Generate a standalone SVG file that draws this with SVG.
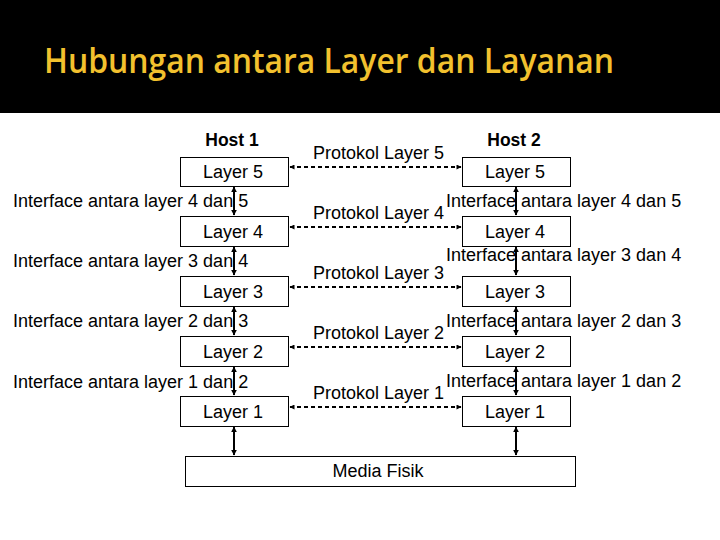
<svg xmlns="http://www.w3.org/2000/svg" width="720" height="540" viewBox="0 0 720 540">
<defs>
<marker id="ah" viewBox="0 0 10 10" refX="9" refY="5" markerWidth="6" markerHeight="6" markerUnits="userSpaceOnUse" orient="auto-start-reverse"><path d="M0,0 L10,5 L0,10 z" fill="#000"/></marker>
<marker id="ad" viewBox="0 0 10 10" refX="9" refY="5" markerWidth="6" markerHeight="5" markerUnits="userSpaceOnUse" orient="auto-start-reverse"><path d="M0,0 L10,5 L0,10 z" fill="#000"/></marker>
<style>
.t{font-family:"Liberation Sans",Arial,sans-serif;font-size:18px;fill:#000}
.c{text-anchor:middle}
.b{font-weight:bold;font-size:17.5px}
.box{fill:#fff;stroke:#000;stroke-width:1}
.v{stroke:#000;stroke-width:2;fill:none;marker-start:url(#ah);marker-end:url(#ah)}
.d{stroke:#000;stroke-width:2;stroke-dasharray:4,3;fill:none;marker-start:url(#ad);marker-end:url(#ad)}
</style>
</defs>
<rect x="0" y="0" width="720" height="540" fill="#fff"/>
<rect x="0" y="0" width="720" height="113" fill="#000"/>
<text x="44" y="73" font-family="'Open Sans','Noto Sans',sans-serif" font-size="34" font-weight="600" fill="#f2c12e" textLength="570" lengthAdjust="spacingAndGlyphs">Hubungan antara Layer dan Layanan</text>

<g id="connectors">
<line class="v" x1="234" y1="187" x2="234" y2="215"/>
<line class="v" x1="234" y1="247" x2="234" y2="275"/>
<line class="v" x1="234" y1="307" x2="234" y2="335"/>
<line class="v" x1="234" y1="367" x2="234" y2="395"/>
<line class="v" x1="234" y1="427" x2="234" y2="455"/>
<line class="v" x1="516" y1="187" x2="516" y2="215"/>
<line class="v" x1="516" y1="247" x2="516" y2="275"/>
<line class="v" x1="516" y1="307" x2="516" y2="335"/>
<line class="v" x1="516" y1="367" x2="516" y2="395"/>
<line class="v" x1="516" y1="427" x2="516" y2="455"/>
<line class="d" x1="290" y1="167" x2="461" y2="167"/>
<line class="d" x1="290" y1="227" x2="461" y2="227"/>
<line class="d" x1="290" y1="287" x2="461" y2="287"/>
<line class="d" x1="290" y1="347" x2="461" y2="347"/>
<line class="d" x1="290" y1="407" x2="461" y2="407"/>
</g>

<g id="host1">
<text class="t c b" x="232" y="146">Host 1</text>
</g>
<g id="host2">
<text class="t c b" x="514" y="146">Host 2</text>
</g>

<g id="h1-layer5"><rect class="box" x="180.5" y="157.5" width="108" height="29"/><text class="t c" x="233" y="178">Layer 5</text></g>
<g id="h1-layer4"><rect class="box" x="180.5" y="216.5" width="108" height="30"/><text class="t c" x="233" y="238">Layer 4</text></g>
<g id="h1-layer3"><rect class="box" x="180.5" y="276.5" width="108" height="30"/><text class="t c" x="233" y="298">Layer 3</text></g>
<g id="h1-layer2"><rect class="box" x="180.5" y="336.5" width="108" height="30"/><text class="t c" x="233" y="358">Layer 2</text></g>
<g id="h1-layer1"><rect class="box" x="180.5" y="396.5" width="108" height="30"/><text class="t c" x="233" y="418">Layer 1</text></g>

<g id="h2-layer5"><rect class="box" x="462.5" y="157.5" width="108" height="29"/><text class="t c" x="515" y="178">Layer 5</text></g>
<g id="h2-layer4"><rect class="box" x="462.5" y="216.5" width="108" height="30"/><text class="t c" x="515" y="238">Layer 4</text></g>
<g id="h2-layer3"><rect class="box" x="462.5" y="276.5" width="108" height="30"/><text class="t c" x="515" y="298">Layer 3</text></g>
<g id="h2-layer2"><rect class="box" x="462.5" y="336.5" width="108" height="30"/><text class="t c" x="515" y="358">Layer 2</text></g>
<g id="h2-layer1"><rect class="box" x="462.5" y="396.5" width="108" height="30"/><text class="t c" x="515" y="418">Layer 1</text></g>

<g id="media"><rect class="box" x="185.5" y="456.5" width="390" height="30"/><text class="t c" x="378" y="477">Media Fisik</text></g>

<g id="labels">
<text class="t" x="313" y="159">Protokol Layer 5</text>
<text class="t" x="313" y="219">Protokol Layer 4</text>
<text class="t" x="313" y="279">Protokol Layer 3</text>
<text class="t" x="313" y="339">Protokol Layer 2</text>
<text class="t" x="313" y="399">Protokol Layer 1</text>
<text class="t" x="13" y="207">Interface antara layer 4 dan 5</text>
<text class="t" x="13" y="267">Interface antara layer 3 dan 4</text>
<text class="t" x="13" y="327">Interface antara layer 2 dan 3</text>
<text class="t" x="13" y="388">Interface antara layer 1 dan 2</text>
<text class="t" x="446" y="207">Interface antara layer 4 dan 5</text>
<text class="t" x="446" y="261">Interface antara layer 3 dan 4</text>
<text class="t" x="446" y="327">Interface antara layer 2 dan 3</text>
<text class="t" x="446" y="387">Interface antara layer 1 dan 2</text>
</g>
</svg>
